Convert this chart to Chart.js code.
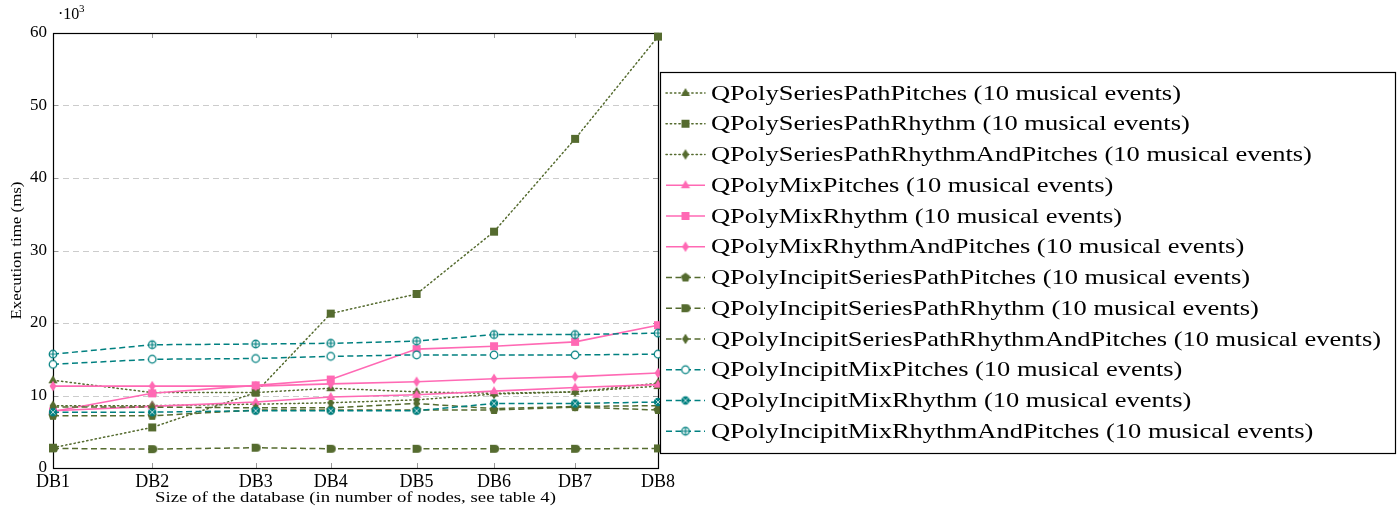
<!DOCTYPE html>
<html>
<head>
<meta charset="utf-8">
<script src="https://cdn.jsdelivr.net/npm/chart.js@4.4.1/dist/chart.umd.min.js"></script>
<style>
  html, body { margin: 0; padding: 0; background: #fff; }
  canvas { display: block; }
</style>
</head>
<body>
<canvas id="chart" width="1400" height="510"></canvas>
<script>
const dbLabels = ['DB1', 'DB2', 'DB3', 'DB4', 'DB5', 'DB6', 'DB7', 'DB8'];
const dbSizes = [1.0, 2.64, 4.35, 5.59, 7.01, 8.29, 9.63, 11.0];
const yTicks = [0, 10, 20, 30, 40, 50, 60];

// execution times, in thousands of ms
const seriesPathPitches = [12.1, 10.4, 10.4, 11.0, 10.5, 10.3, 10.5, 11.3];
const seriesPathRhythm = [2.8, 5.6, 10.4, 21.3, 24.0, 32.6, 45.4, 59.5];
const seriesPathRhythmAndPitches = [8.6, 8.6, 8.8, 9.0, 9.4, 10.2, 10.5, 11.7];
const mixPitches = [7.9, 8.5, 9.1, 9.8, 10.1, 10.6, 11.1, 11.5];
const mixRhythm = [7.8, 10.3, 11.4, 12.2, 16.4, 16.8, 17.4, 19.7];
const mixRhythmAndPitches = [11.3, 11.3, 11.3, 11.6, 11.9, 12.3, 12.6, 13.1];
const incipitSeriesPathPitches = [7.2, 7.2, 8.0, 8.0, 8.0, 8.0, 8.4, 8.0];
const incipitSeriesPathRhythm = [2.7, 2.6, 2.8, 2.65, 2.65, 2.65, 2.65, 2.7];
const incipitSeriesPathRhythmAndPitches = [8.4, 8.4, 8.3, 8.3, 8.9, 8.2, 8.5, 8.6];
const incipitMixPitches = [14.3, 15.0, 15.1, 15.4, 15.6, 15.6, 15.6, 15.7];
const incipitMixRhythm = [7.7, 7.7, 7.9, 7.9, 7.9, 8.9, 8.9, 9.1];
const incipitMixRhythmAndPitches = [15.7, 17.0, 17.1, 17.2, 17.5, 18.4, 18.4, 18.6];

const OLIVE = 'rgb(85,107,47)';
const PINK = 'rgb(255,105,180)';
const TEAL = 'rgb(0,128,128)';
const DOTTED = [1.3, 3];
const DASHED = [6, 3.5];

function makeMarker(shape, color) {
  const s = 14;
  const c = document.createElement('canvas');
  c.width = s; c.height = s;
  const g = c.getContext('2d');
  g.translate(s / 2, s / 2);
  g.fillStyle = color;
  g.strokeStyle = color;
  g.lineWidth = 1.2;
  g.beginPath();
  if (shape === 'triangle') {
    g.moveTo(0, -5); g.lineTo(4.6, 3); g.lineTo(-4.6, 3); g.closePath(); g.fill();
  } else if (shape === 'square') {
    g.fillRect(-4, -4, 8, 8);
  } else if (shape === 'diamond') {
    g.moveTo(0, -5.2); g.lineTo(3.4, 0); g.lineTo(0, 5.2); g.lineTo(-3.4, 0); g.closePath(); g.fill();
  } else if (shape === 'pentagon') {
    for (let i = 0; i < 5; i++) {
      const a = -Math.PI / 2 + i * 2 * Math.PI / 5;
      g.lineTo(4.8 * Math.cos(a), 4.8 * Math.sin(a));
    }
    g.closePath(); g.fill();
  } else if (shape === 'halfsquare') {
    g.moveTo(-4, -4); g.lineTo(1, -4); g.arc(1, 0, 4, -Math.PI / 2, Math.PI / 2); g.lineTo(-4, 4); g.closePath(); g.fill();
  } else if (shape === 'o') {
    g.arc(0, 0, 3.8, 0, Math.PI * 2); g.fillStyle = '#fff'; g.fill(); g.stroke();
  } else if (shape === 'otimes') {
    g.arc(0, 0, 4.2, 0, Math.PI * 2); g.fill();
    g.strokeStyle = 'rgba(255,255,255,0.8)'; g.lineWidth = 0.9;
    g.beginPath(); g.moveTo(-2.5, -2.5); g.lineTo(2.5, 2.5); g.moveTo(2.5, -2.5); g.lineTo(-2.5, 2.5); g.stroke();
  } else if (shape === 'oplus') {
    g.arc(0, 0, 3.8, 0, Math.PI * 2); g.fillStyle = '#fff'; g.fill(); g.stroke();
    g.beginPath(); g.moveTo(-3.8, 0); g.lineTo(3.8, 0); g.moveTo(0, -3.8); g.lineTo(0, 3.8); g.stroke();
  }
  return c;
}

const seriesDefs = [
  ['QPolySeriesPathPitches (10 musical events)', seriesPathPitches, OLIVE, DOTTED, 'triangle'],
  ['QPolySeriesPathRhythm (10 musical events)', seriesPathRhythm, OLIVE, DOTTED, 'square'],
  ['QPolySeriesPathRhythmAndPitches (10 musical events)', seriesPathRhythmAndPitches, OLIVE, DOTTED, 'diamond'],
  ['QPolyMixPitches (10 musical events)', mixPitches, PINK, [], 'triangle'],
  ['QPolyMixRhythm (10 musical events)', mixRhythm, PINK, [], 'square'],
  ['QPolyMixRhythmAndPitches (10 musical events)', mixRhythmAndPitches, PINK, [], 'diamond'],
  ['QPolyIncipitSeriesPathPitches (10 musical events)', incipitSeriesPathPitches, OLIVE, DASHED, 'pentagon'],
  ['QPolyIncipitSeriesPathRhythm (10 musical events)', incipitSeriesPathRhythm, OLIVE, DASHED, 'halfsquare'],
  ['QPolyIncipitSeriesPathRhythmAndPitches (10 musical events)', incipitSeriesPathRhythmAndPitches, OLIVE, DASHED, 'diamond'],
  ['QPolyIncipitMixPitches (10 musical events)', incipitMixPitches, TEAL, DASHED, 'o'],
  ['QPolyIncipitMixRhythm (10 musical events)', incipitMixRhythm, TEAL, DASHED, 'otimes'],
  ['QPolyIncipitMixRhythmAndPitches (10 musical events)', incipitMixRhythmAndPitches, TEAL, DASHED, 'oplus']
];

const datasets = seriesDefs.map(([label, values, color, dash, shape], i) => ({
  label,
  data: values.map((v, j) => ({ x: dbSizes[j], y: v })),
  borderColor: color,
  backgroundColor: color,
  borderWidth: color === PINK ? 1.6 : 1.5,
  borderDash: dash,
  borderCapStyle: dash === DOTTED ? 'round' : 'butt',
  pointStyle: makeMarker(shape, color),
  pointRadius: 4,
  tension: 0,
  clip: false,
  order: seriesDefs.length - i
}));

const SERIF = "'Liberation Serif', 'DejaVu Serif', serif";

// draw text stretched horizontally to a given width (CM-like proportions)
function stretchedText(ctx, text, x, y, size, width, align) {
  ctx.font = size + 'px ' + SERIF;
  const w = ctx.measureText(text).width;
  const k = width / w;
  ctx.save();
  ctx.translate(x, y);
  ctx.scale(k, 1);
  ctx.textAlign = align || 'left';
  ctx.fillText(text, 0, 0);
  ctx.restore();
}

const frame = {
  id: 'frame',
  beforeDatasetsDraw(chart) {
    const { ctx, chartArea: a, scales } = chart;
    ctx.save();
    ctx.strokeStyle = '#cccccc';
    ctx.lineWidth = 1;
    ctx.setLineDash([6, 4]);
    yTicks.slice(1, -1).forEach(v => {
      const y = Math.round(scales.y.getPixelForValue(v)) + 0.5;
      ctx.beginPath(); ctx.moveTo(a.left, y); ctx.lineTo(a.right, y); ctx.stroke();
    });
    ctx.setLineDash([]);
    ctx.strokeStyle = '#999';
    dbSizes.forEach(v => {
      const x = Math.round(scales.x.getPixelForValue(v)) + 0.5;
      ctx.beginPath();
      ctx.moveTo(x, a.bottom); ctx.lineTo(x, a.bottom - 5);
      ctx.moveTo(x, a.top); ctx.lineTo(x, a.top + 5);
      ctx.stroke();
    });
    yTicks.forEach(v => {
      const y = Math.round(scales.y.getPixelForValue(v)) + 0.5;
      ctx.beginPath();
      ctx.moveTo(a.left, y); ctx.lineTo(a.left + 5, y);
      ctx.moveTo(a.right, y); ctx.lineTo(a.right - 5, y);
      ctx.stroke();
    });
    ctx.strokeStyle = '#000';
    ctx.lineWidth = 1.2;
    ctx.strokeRect(a.left + 0.5, a.top + 0.5, a.right - a.left, a.bottom - a.top);

    ctx.fillStyle = '#000';
    ctx.textBaseline = 'alphabetic';
    ctx.font = '16px ' + SERIF;
    ctx.fillText('\u00b710', 58, 19);
    ctx.font = '11px ' + SERIF;
    ctx.fillText('3', 79, 12);

    // axis titles
    ctx.textBaseline = 'middle';
    stretchedText(ctx, 'Size of the database (in number of nodes, see table 4)',
      (a.left + a.right) / 2, 498, 15, 401, 'center');
    ctx.save();
    ctx.translate(17, (a.top + a.bottom) / 2);
    ctx.rotate(-Math.PI / 2);
    stretchedText(ctx, 'Execution time (ms)', 0, 0, 15, 138, 'center');
    ctx.restore();
    ctx.restore();
  },
  afterDraw(chart) {
    const { ctx } = chart;
    const box = { left: 660, top: 72, right: 1395, bottom: 453 };
    ctx.save();
    ctx.fillStyle = '#fff';
    ctx.fillRect(box.left, box.top, box.right - box.left, box.bottom - box.top);
    ctx.strokeStyle = '#000';
    ctx.lineWidth = 1.2;
    ctx.strokeRect(box.left + 0.5, box.top + 0.5, box.right - box.left, box.bottom - box.top);

    const size = 21;
    ctx.font = size + 'px ' + SERIF;
    const longest = Math.max(...seriesDefs.map(d => ctx.measureText(d[0]).width));
    const k = 670 / longest;

    chart.data.datasets.forEach((ds, i) => {
      const y = 93 + i * 30.75;
      ctx.strokeStyle = ds.borderColor;
      ctx.lineWidth = ds.borderWidth;
      ctx.setLineDash(ds.borderDash);
      ctx.lineCap = ds.borderCapStyle;
      ctx.beginPath(); ctx.moveTo(666, y); ctx.lineTo(705, y); ctx.stroke();
      ctx.setLineDash([]);
      const m = ds.pointStyle;
      ctx.drawImage(m, 685.5 - m.width / 2, y - m.height / 2);
      ctx.fillStyle = '#000';
      ctx.textBaseline = 'middle';
      ctx.save();
      ctx.translate(711, y + 1);
      ctx.scale(k, 1);
      ctx.fillText(ds.label, 0, 0);
      ctx.restore();
    });
    ctx.restore();
  }
};

new Chart(document.getElementById('chart'), {
  type: 'line',
  data: { datasets },
  plugins: [frame],
  options: {
    responsive: false,
    animation: false,
    layout: { padding: { left: 0, right: 742, top: 33, bottom: 0 } },
    plugins: {
      legend: { display: false },
      tooltip: { enabled: false }
    },
    scales: {
      x: {
        type: 'linear',
        min: dbSizes[0],
        max: dbSizes[dbSizes.length - 1],
        grid: { display: false, drawTicks: false },
        border: { display: false },
        afterBuildTicks(scale) { scale.ticks = dbSizes.map(v => ({ value: v })); },
        afterFit(scale) { scale.height = 42; },
        ticks: {
          autoSkip: false,
          maxRotation: 0,
          padding: 3,
          color: '#000',
          font: { family: SERIF, size: 18 },
          callback: v => dbLabels[dbSizes.indexOf(v)]
        }
      },
      y: {
        min: 0,
        max: 60,
        grid: { display: false, drawTicks: false },
        border: { display: false },
        afterBuildTicks(scale) { scale.ticks = yTicks.map(v => ({ value: v })); },
        afterFit(scale) { scale.width = 53; },
        ticks: {
          padding: 6,
          color: '#000',
          font: { family: SERIF, size: 17 }
        }
      }
    }
  }
});
</script>
</body>
</html>
